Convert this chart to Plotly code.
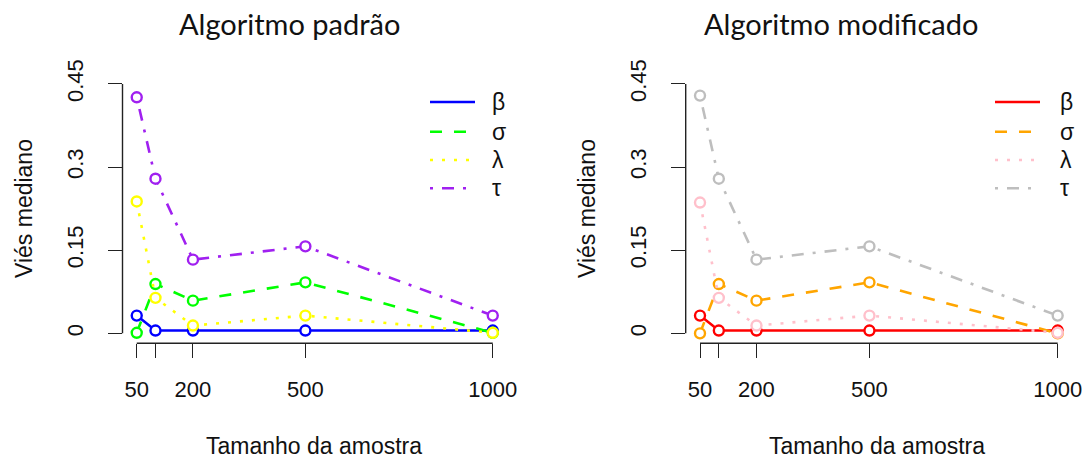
import plotly.graph_objects as go

W, H = 1087, 459

# ---- data ----
n = [50, 100, 200, 500, 1000]
x_ticks = [50, 100, 200, 500, 1000]
x_ticktext = ["50", "", "200", "500", "1000"]
y_ticks = [0, 0.15, 0.3, 0.45]
y_ticktext = ["0", "0.15", "0.3", "0.45"]

beta_p = [0.032, 0.005, 0.005, 0.005, 0.005]
sigma_p = [0.001, 0.089, 0.059, 0.092, 0.001]
lambda_p = [0.238, 0.064, 0.014, 0.032, 0.001]
tau_p = [0.426, 0.279, 0.133, 0.157, 0.032]

beta_m = [0.032, 0.005, 0.005, 0.005, 0.005]
sigma_m = [0.000, 0.089, 0.059, 0.092, 0.000]
lambda_m = [0.236, 0.064, 0.014, 0.032, 0.001]
tau_m = [0.429, 0.279, 0.133, 0.157, 0.032]

labels = ["β", "σ", "λ", "τ"]
titles = ["Algoritmo padrão", "Algoritmo modificado"]
x_title = "Tamanho da amostra"
y_title = "Viés mediano"

colors_p = ["#0000FF", "#00FF00", "#FFFF00", "#A020F0"]
colors_m = ["#FF0000", "#FFA500", "#FFC0CB", "#BEBEBE"]
dashes = ["solid", "12px,12px", "3px,9px", "3px,9px,12px,9px"]

AX_FONT = "Liberation Sans, Arial, sans-serif"
TITLE_FONT = "Lato, Open Sans, sans-serif"


def px_x(p):
    return p / W


def px_y(p):
    return 1 - p / H


fig = go.Figure()

panels = [
    dict(series=[beta_p, sigma_p, lambda_p, tau_p], colors=colors_p, xa="x", ya="y",
         dom_x=(122.5, 507.0), title_x=289, xt_x=314, yt_x=24, leg_x=430, leg_tx=490),
    dict(series=[beta_m, sigma_m, lambda_m, tau_m], colors=colors_m, xa="x2", ya="y2",
         dom_x=(685.7, 1072.0), title_x=841, xt_x=877, yt_x=587, leg_x=995, leg_tx=1058),
]
dom_y = (74.0, 343.3)
xr = [min(n) - 0.04 * (max(n) - min(n)), max(n) + 0.04 * (max(n) - min(n))]
yr = [min(y_ticks) - 0.04 * (max(y_ticks) - min(y_ticks)), max(y_ticks) + 0.04 * (max(y_ticks) - min(y_ticks))]

shapes = []
annotations = []
leg_rows = [102, 131.7, 160, 188.3]

for i, pnl in enumerate(panels):
    for vals, col, dash in zip(pnl["series"], pnl["colors"], dashes):
        fig.add_trace(go.Scatter(
            x=n, y=vals, mode="lines+markers", xaxis=pnl["xa"], yaxis=pnl["ya"],
            line=dict(color=col, width=2.6, dash=dash),
            marker=dict(symbol="circle", size=10, color="white", line=dict(color=col, width=2.4)),
            showlegend=False, hoverinfo="skip",
        ))
    sfx = "" if i == 0 else "2"
    fig.update_layout(**{
        "xaxis" + sfx: dict(domain=[px_x(pnl["dom_x"][0]), px_x(pnl["dom_x"][1])], range=xr,
                            tickvals=x_ticks, ticktext=x_ticktext, ticks="outside", ticklen=14,
                            tickwidth=1.3, tickcolor="#222", showline=False, showgrid=False,
                            zeroline=False, anchor="y" + sfx, automargin=False,
                            tickfont=dict(family=AX_FONT, size=22, color="#111"),
                            ticklabelstandoff=12),
        "yaxis" + sfx: dict(domain=[px_y(dom_y[1]), px_y(dom_y[0])], range=yr,
                            tickvals=y_ticks, ticktext=y_ticktext, ticks="outside", ticklen=14,
                            tickwidth=1.3, tickcolor="#222", showline=False, showgrid=False,
                            zeroline=False, anchor="x" + sfx, tickangle=-90, automargin=False,
                            tickfont=dict(family=AX_FONT, size=22, color="#111"),
                            ticklabelstandoff=16),
    })
    xref = pnl["xa"]
    yref = pnl["ya"]
    # R-style axis lines spanning first to last tick
    shapes.append(dict(type="line", xref=xref, yref=yref + " domain", x0=min(x_ticks), x1=max(x_ticks),
                       y0=0, y1=0, line=dict(color="#222", width=1.4)))
    shapes.append(dict(type="line", xref=xref + " domain", yref=yref, x0=0, x1=0,
                       y0=min(y_ticks), y1=max(y_ticks), line=dict(color="#222", width=1.4)))
    # legend
    for lab, col, dash, ry in zip(labels, pnl["colors"], dashes, leg_rows):
        shapes.append(dict(type="line", xref="paper", yref="paper",
                           x0=px_x(pnl["leg_x"]), x1=px_x(pnl["leg_x"] + 45),
                           y0=px_y(ry), y1=px_y(ry), line=dict(color=col, width=2.6, dash=dash)))
        annotations.append(dict(text=lab, xref="paper", yref="paper", x=px_x(pnl["leg_tx"]),
                                y=px_y(ry), xanchor="left", yanchor="middle", showarrow=False,
                                font=dict(family=AX_FONT, size=23, color="#111")))
    # titles
    annotations.append(dict(text=titles[i], xref="paper", yref="paper", x=px_x(pnl["title_x"]),
                            y=px_y(23), xanchor="center", yanchor="middle", showarrow=False,
                            font=dict(family=TITLE_FONT, size=29, color="#111")))
    annotations.append(dict(text=x_title, xref="paper", yref="paper", x=px_x(pnl["xt_x"]),
                            y=px_y(446), xanchor="center", yanchor="middle", showarrow=False,
                            font=dict(family=AX_FONT, size=23, color="#111")))
    annotations.append(dict(text=y_title, xref="paper", yref="paper", x=px_x(pnl["yt_x"]),
                            y=px_y(209), xanchor="center", yanchor="middle", showarrow=False,
                            textangle=-90, font=dict(family=AX_FONT, size=23, color="#111")))

fig.update_layout(width=W, height=H, autosize=False, margin=dict(l=0, r=0, t=0, b=0),
                  paper_bgcolor="white", plot_bgcolor="white", shapes=shapes,
                  annotations=annotations, showlegend=False)

fig.write_html("out.html", config={"displayModeBar": False},
               post_script="document.body.style.margin='0';")
